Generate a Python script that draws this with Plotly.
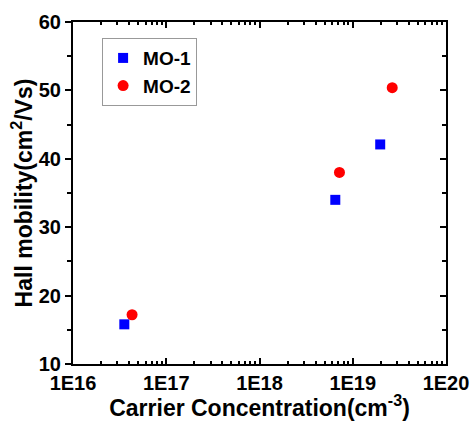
import plotly.graph_objects as go

mo1_x = [3.55e16, 6.5e18, 1.97e19]
mo1_y = [15.8, 34.0, 42.1]
mo2_x = [4.3e16, 7.2e18, 2.65e19]
mo2_y = [17.2, 38.0, 50.4]

x_tickvals = [1e16, 1e17, 1e18, 1e19, 1e20]
x_ticktext = ["1E16", "1E17", "1E18", "1E19", "1E20"]
y_tickvals = [10, 20, 30, 40, 50, 60]

FONT = "Liberation Sans, Arial, sans-serif"

fig = go.Figure()
fig.add_trace(go.Scatter(x=mo1_x, y=mo1_y, mode="markers", name="MO-1",
                         marker=dict(symbol="square", size=10, color="#0000FF")))
fig.add_trace(go.Scatter(x=mo2_x, y=mo2_y, mode="markers", name="MO-2",
                         marker=dict(symbol="circle", size=11, color="#FF0000")))
# invisible trace to anchor the mirror axes
fig.add_trace(go.Scatter(x=[mo1_x[0]], y=[mo1_y[0]], mode="markers", xaxis="x2", yaxis="y2",
                         showlegend=False, hoverinfo="skip", marker=dict(opacity=0)))

minor_x = [float(m) * 10.0 ** e for e in range(16, 20) for m in range(2, 10)]

common = dict(showline=True, linecolor="black", linewidth=2, showgrid=False, zeroline=False,
              tickcolor="black", tickwidth=1.5, automargin=False)

fig.update_layout(
    width=470, height=421,
    margin=dict(l=73, r=24, t=22, b=57),
    paper_bgcolor="white", plot_bgcolor="white",
    font=dict(family=FONT, color="black"),
    xaxis=dict(type="log", range=[16, 20], tickvals=x_tickvals, ticktext=x_ticktext,
               ticks="inside", ticklen=6,
               minor=dict(tickvals=minor_x, ticks="inside", ticklen=3, tickcolor="black", tickwidth=1.5),
               tickfont=dict(size=20, family=FONT, weight="bold"),
               title=dict(text="Carrier Concentration(cm<sup>-3</sup>)",
                          font=dict(size=23, family=FONT, weight="bold"), standoff=6),
               **common),
    yaxis=dict(range=[10, 60], tickvals=y_tickvals, ticks="outside", ticklen=6,
               minor=dict(dtick=5, ticks="outside", ticklen=4, tickcolor="black", tickwidth=1.5),
               tickfont=dict(size=20, family=FONT, weight="bold"),
               title=dict(text="Hall mobility(cm<sup>2</sup>/Vs)",
                          font=dict(size=23, family=FONT, weight="bold"), standoff=0),
               **common),
    xaxis2=dict(type="log", range=[16, 20], overlaying="x", side="top", anchor="y",
                tickvals=x_tickvals, showticklabels=False, ticks="inside", ticklen=6,
                minor=dict(tickvals=minor_x, ticks="inside", ticklen=3, tickcolor="black", tickwidth=1.5),
                **common),
    yaxis2=dict(range=[10, 60], overlaying="y", side="right", anchor="x",
                tickvals=y_tickvals, showticklabels=False, ticks="inside", ticklen=6,
                minor=dict(dtick=5, ticks="inside", ticklen=4, tickcolor="black", tickwidth=1.5),
                **common),
    legend=dict(x=0.078, y=0.953, xanchor="left", yanchor="top",
                bordercolor="#999999", borderwidth=1, bgcolor="white",
                font=dict(size=19, family=FONT, weight="bold"),
                itemwidth=30, tracegroupgap=0),
    showlegend=True,
)

fig.write_html("out.html", config={"displayModeBar": False},
               post_script="document.body.style.margin='0';document.body.style.overflow='hidden';")
